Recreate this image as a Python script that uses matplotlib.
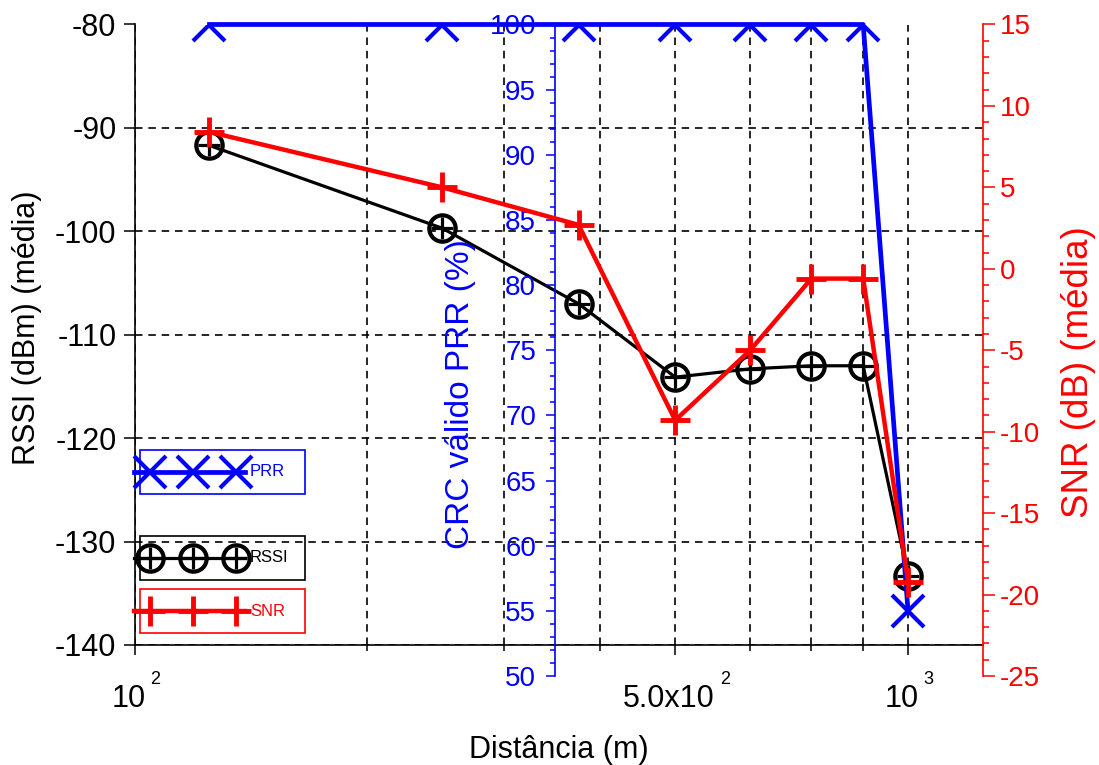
import matplotlib
matplotlib.use("Agg")
import matplotlib.pyplot as plt
from matplotlib.lines import Line2D
from matplotlib.patches import Rectangle
from matplotlib.ticker import MultipleLocator, NullFormatter

plt.rcParams['font.family'] = ['Liberation Sans', 'DejaVu Sans']
plt.rcParams['axes.unicode_minus'] = False

# Measurements: distance (m), mean RSSI (dBm), packet reception rate (%), mean SNR (dB)
distancia = [125, 250, 375, 500, 625, 750, 875, 1000]
rssi = [-91.7, -99.7, -107.0, -114.1, -113.3, -113.0, -113.0, -133.3]
prr = [100, 100, 100, 100, 100, 100, 100, 55]
snr = [8.4, 5.0, 2.7, -9.3, -5.0, -0.6, -0.6, -19.2]

# x tick labels written as mantissa + exponent
x_major = [100, 500, 1000]
x_major_base = ['10', '5.0x10', '10']
x_major_exp = ['2', '2', '3']
x_minor = [200, 300, 400, 625, 750, 875]

W, H = 1099, 765
fig = plt.figure(figsize=(W / 100, H / 100), dpi=100)
fig.patch.set_facecolor('white')


def fx(px):
    return px / W


def fy(py):
    return 1 - py / H


left, right = 134.5, 983
top, bottom_main, bottom_twin = 24.5, 645, 676

ax = fig.add_axes([fx(left), fy(bottom_main), fx(right - left), (bottom_main - top) / H])
ax_prr = fig.add_axes([fx(left), fy(bottom_twin), fx(right - left), (bottom_twin - top) / H])
ax_snr = fig.add_axes([fx(left), fy(bottom_twin), fx(right - left), (bottom_twin - top) / H])

for a in (ax, ax_prr, ax_snr):
    a.set_xscale('log')
    a.set_xlim(100, 1250)
    a.patch.set_alpha(0)

# ---- main axis: RSSI ----
ax.set_ylim(-140, -80)
ax.yaxis.set_major_locator(MultipleLocator(10))
ax.set_xticks(x_major, labels=[''] * len(x_major))
ax.set_xticks(x_minor, minor=True)
ax.xaxis.set_minor_formatter(NullFormatter())
for s in ('top', 'right'):
    ax.spines[s].set_visible(False)
for s in ('left', 'bottom'):
    ax.spines[s].set_linewidth(1.2)
ax.tick_params(axis='y', which='major', direction='out', length=8, width=1.1,
               labelsize=22, pad=5)
ax.tick_params(axis='x', which='major', direction='out', length=7, width=1.1)
ax.tick_params(axis='x', which='minor', direction='out', length=4, width=1.1)
ax.grid(True, which='both', axis='x', color='black', lw=1.2, ls=(0, (4.5, 3.5)))
ax.grid(True, which='major', axis='y', color='black', lw=1.2, ls=(0, (4.5, 3.5)))
ax.set_axisbelow(True)

# mantissa centred under the tick, exponent raised at its upper right
for t, base, ex in zip(x_major, x_major_base, x_major_exp):
    b = ax.annotate(base, xy=(t, 0), xycoords=('data', 'axes fraction'),
                    xytext=(-4.5, -28), textcoords='offset points',
                    ha='center', va='top', fontsize=22, annotation_clip=False)
    ax.annotate(ex, xy=(1, 1), xycoords=b, xytext=(3.5, -3), textcoords='offset points',
                ha='left', va='bottom', fontsize=13, annotation_clip=False)

ax.plot(distancia, rssi, color='black', lw=2.3, zorder=3)
ax.plot(distancia, rssi, ls='none', marker='o', ms=19, mfc='none', mec='black', mew=3, zorder=4)
ax.plot(distancia, rssi, ls='none', marker='+', ms=16, mec='black', mew=2.3, zorder=4)

# ---- PRR axis (middle, blue) ----
ax_prr.set_ylim(50, 100)
for s in ('top', 'right', 'bottom'):
    ax_prr.spines[s].set_visible(False)
ax_prr.spines['left'].set_position(('axes', (555 - left) / (right - left)))
ax_prr.spines['left'].set_color('blue')
ax_prr.spines['left'].set_linewidth(1.2)
ax_prr.xaxis.set_visible(False)
ax_prr.yaxis.set_major_locator(MultipleLocator(5))
ax_prr.yaxis.set_minor_locator(MultipleLocator(1))
ax_prr.tick_params(axis='y', which='major', direction='out', length=6.5, width=1.1,
                   color='blue', labelcolor='blue', labelsize=20, pad=7)
ax_prr.tick_params(axis='y', which='minor', direction='out', length=3.5, width=1.1,
                   color='blue')
ax_prr.plot(distancia, prr, color='blue', lw=3.4, clip_on=False, zorder=3)
ax_prr.plot(distancia, prr, ls='none', marker='x', ms=23, mec='blue', mew=3, zorder=4)

# ---- SNR axis (right, red) ----
ax_snr.set_ylim(-25, 15)
for s in ('top', 'left', 'bottom'):
    ax_snr.spines[s].set_visible(False)
ax_snr.spines['right'].set_color('red')
ax_snr.spines['right'].set_linewidth(1.2)
ax_snr.xaxis.set_visible(False)
ax_snr.yaxis.tick_right()
ax_snr.yaxis.set_major_locator(MultipleLocator(5))
ax_snr.yaxis.set_minor_locator(MultipleLocator(1))
ax_snr.tick_params(axis='y', which='major', direction='out', length=8.5, width=1.1,
                   color='red', labelcolor='red', labelsize=20, pad=3.5)
ax_snr.tick_params(axis='y', which='minor', direction='out', length=4.3, width=1.1,
                   color='red')
ax_snr.plot(distancia, snr, color='red', lw=3.2, zorder=3)
ax_snr.plot(distancia, snr, ls='none', marker='+', ms=21, mec='red', mew=3.5, zorder=4)

# ---- axis titles ----
fig.text(fx(559), fy(750), 'Distância (m)', fontsize=22, ha='center', va='center')
fig.text(fx(27.5), fy(328), 'RSSI (dBm) (média)', fontsize=22, rotation=90,
         ha='center', va='center')
fig.text(fx(460), fy(394), 'CRC válido PRR (%)', fontsize=24, rotation=90,
         ha='center', va='center', color='blue')
fig.text(fx(1079), fy(372), 'SNR (dB) (média)', fontsize=26.5, rotation=90,
         ha='center', va='center', color='red')

# ---- legend keys, one framed box per series ----
keys = [
    ('PRR', 'blue', 450, 494, dict(marker='x', ms=23, mec='blue', mew=3), 3.4),
    ('RSSI', 'black', 536, 580, None, 2.3),
    ('SNR', 'red', 589, 633, dict(marker='+', ms=21, mec='red', mew=3.5), 3.2),
]
for label, color, y0, y1, mk, lw in keys:
    fig.add_artist(Rectangle((fx(140), fy(y1)), fx(305 - 140), (y1 - y0) / H,
                             transform=fig.transFigure, fill=False,
                             edgecolor=color, lw=1.2))
    yc = (y0 + y1) / 2
    xs = [fx(150), fx(193), fx(236)]
    fig.add_artist(Line2D([fx(134), fx(245)], [fy(yc)] * 2, color=color, lw=lw,
                          transform=fig.transFigure))
    if mk is None:
        fig.add_artist(Line2D(xs, [fy(yc)] * 3, ls='none', marker='o', ms=19,
                              mfc='none', mec='black', mew=3, transform=fig.transFigure))
        fig.add_artist(Line2D(xs, [fy(yc)] * 3, ls='none', marker='+', ms=16,
                              mec='black', mew=2.3, transform=fig.transFigure))
    else:
        fig.add_artist(Line2D(xs, [fy(yc)] * 3, ls='none', transform=fig.transFigure, **mk))
    fig.text(fx(250), fy(yc), label, fontsize=12, color=color, ha='left', va='center')

fig.savefig('out.png', dpi=100, facecolor='white')
